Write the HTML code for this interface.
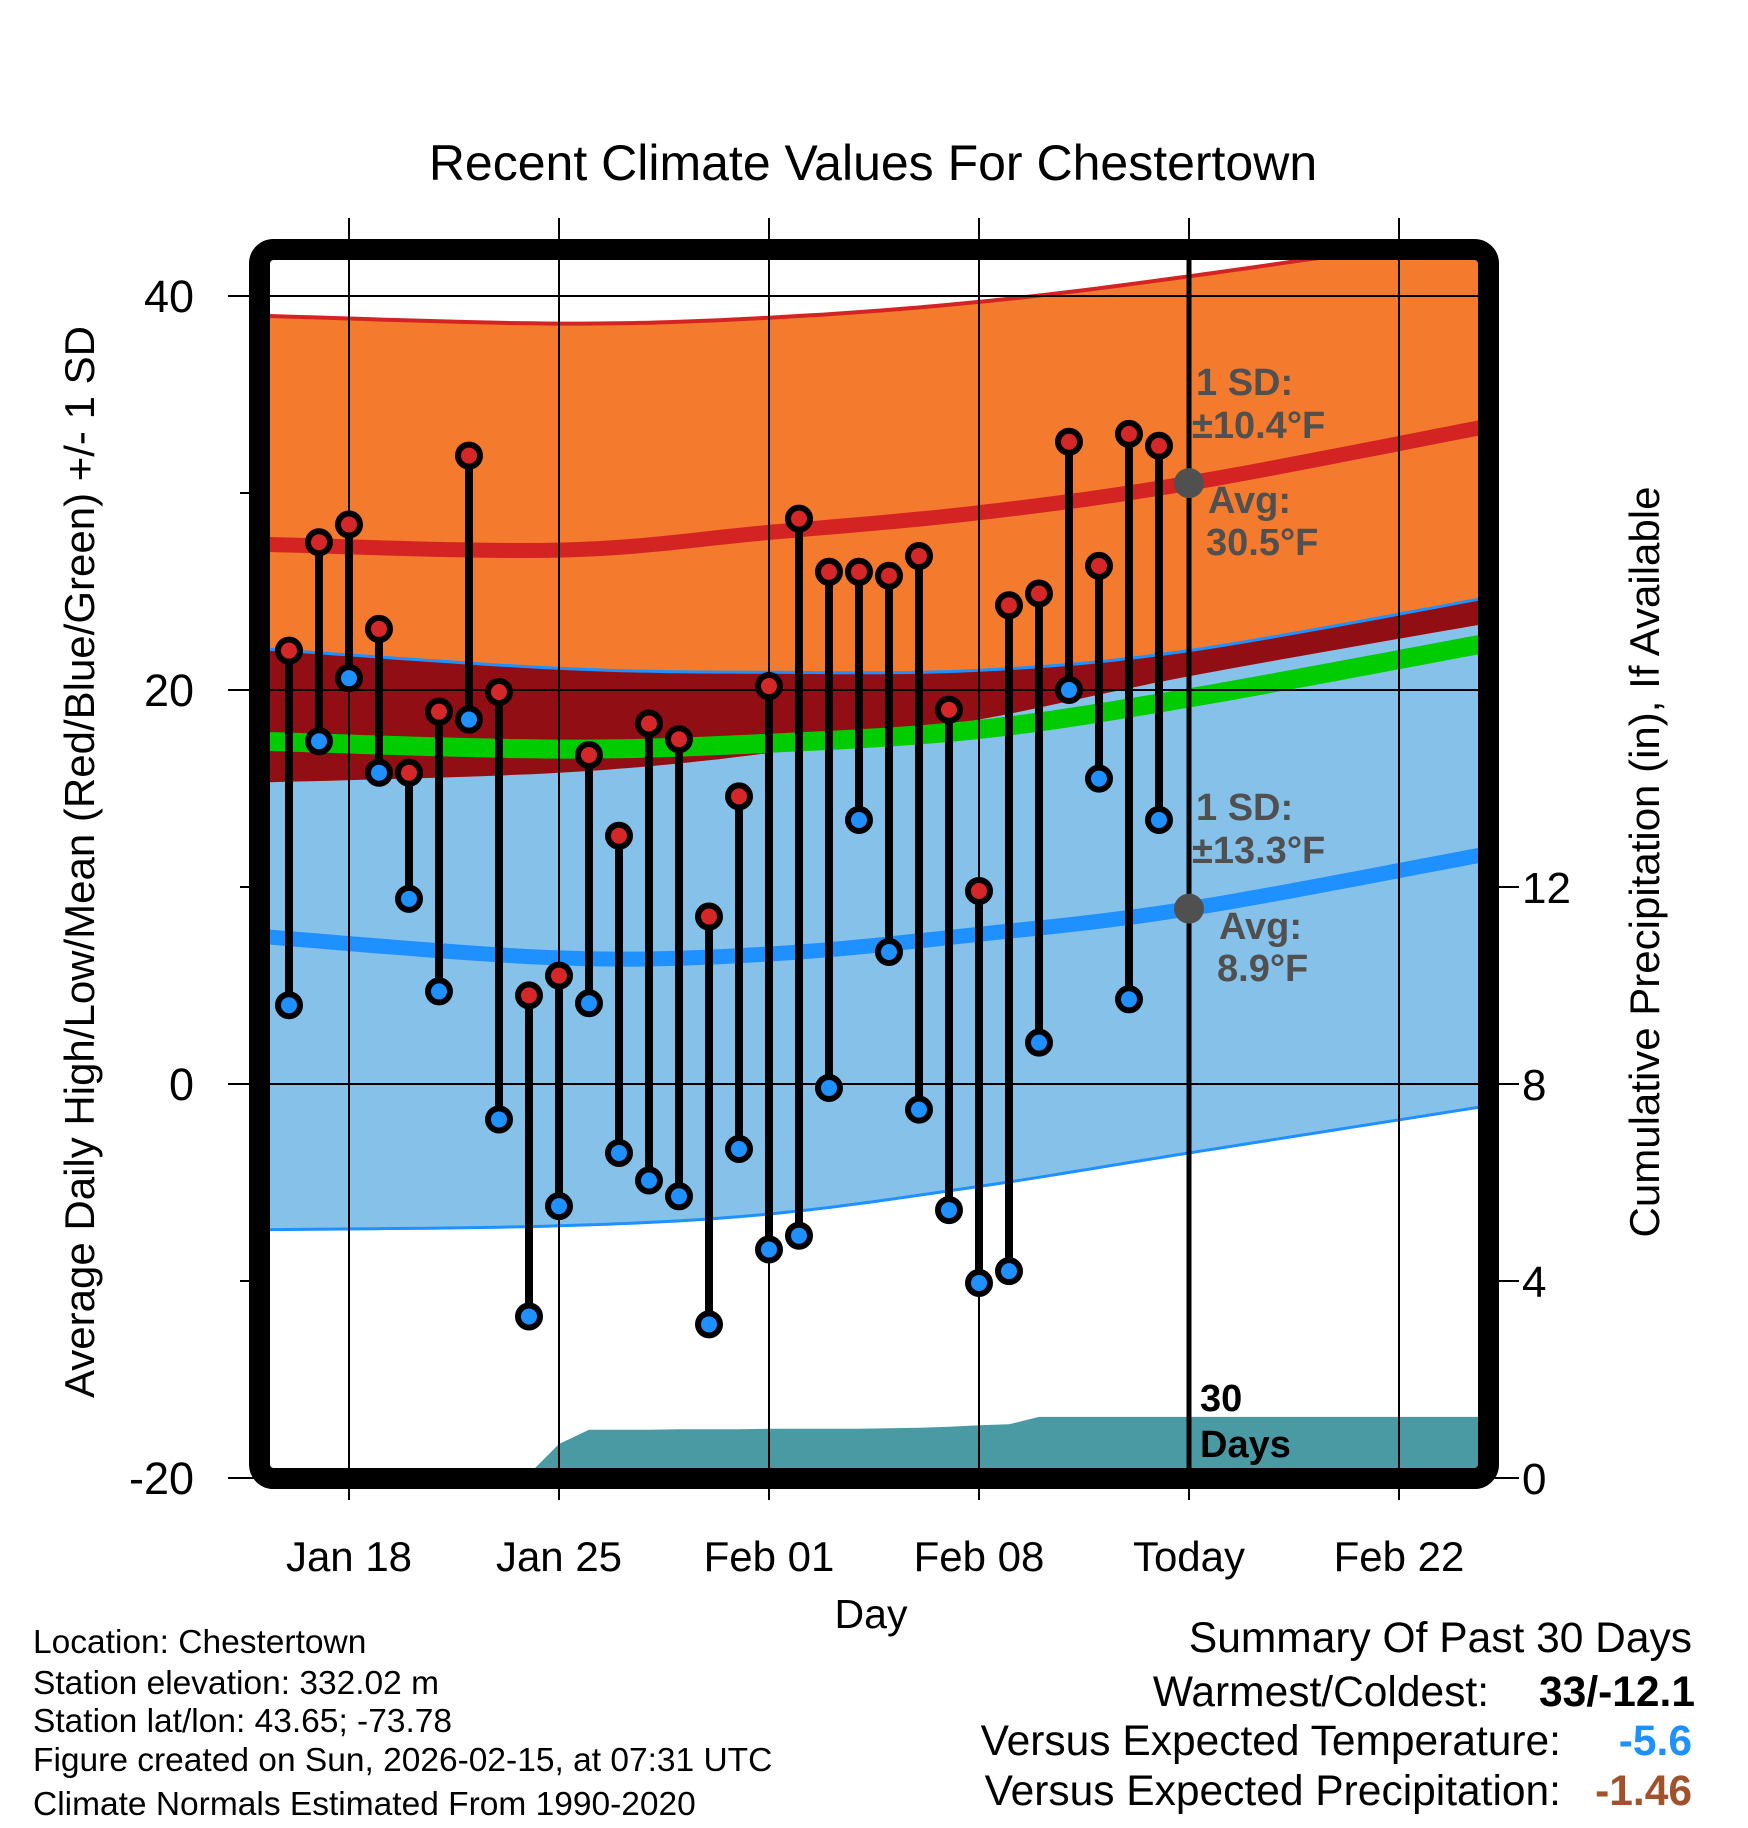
<!DOCTYPE html>
<html><head><meta charset="utf-8">
<style>
html,body{margin:0;padding:0;background:#fff;}
svg{display:block;font-family:"Liberation Sans",sans-serif;}
</style></head>
<body>
<svg id="chart" width="1748" height="1828" viewBox="0 0 1748 1828" xmlns="http://www.w3.org/2000/svg">
<defs><clipPath id="plotclip"><rect x="270" y="260" width="1208" height="1208"/></clipPath></defs>
<g id="bands" clip-path="url(#plotclip)"></g>
<g id="grid"></g>
<g id="marks"></g>
<rect x="259.5" y="249.5" width="1229" height="1229" rx="14" fill="none" stroke="#000" stroke-width="21"/>
<g id="axes"></g>
<text x="873" y="180" font-size="50" text-anchor="middle">Recent Climate Values For Chestertown</text>
<text x="871" y="1628" font-size="41" text-anchor="middle">Day</text>
<text transform="translate(94,862) rotate(-90)" font-size="42" text-anchor="middle">Average Daily High/Low/Mean (Red/Blue/Green) +/- 1 SD</text>
<text transform="translate(1659,862) rotate(-90)" font-size="42" text-anchor="middle">Cumulative Precipitation (in), If Available</text>
<g font-size="38" font-weight="bold" fill="#505050">
<text x="1196" y="395">1 SD:</text>
<text x="1192" y="438">±10.4°F</text>
<text x="1208" y="513">Avg:</text>
<text x="1206" y="555">30.5°F</text>
<text x="1196" y="820">1 SD:</text>
<text x="1192" y="863">±13.3°F</text>
<text x="1219" y="939">Avg:</text>
<text x="1217" y="981">8.9°F</text>
</g>
<g font-size="38" font-weight="bold" fill="#000">
<text x="1200" y="1411">30</text><text x="1200" y="1457">Days</text>
</g>
<g font-size="33.5" fill="#000">
<text x="33" y="1653">Location: Chestertown</text>
<text x="33" y="1694">Station elevation: 332.02 m</text>
<text x="33" y="1732">Station lat/lon: 43.65; -73.78</text>
<text x="33" y="1771">Figure created on Sun, 2026-02-15, at 07:31 UTC</text>
<text x="33" y="1815">Climate Normals Estimated From 1990-2020</text>
</g>
<g font-size="42.5" text-anchor="end">
<text x="1692" y="1652">Summary Of Past 30 Days</text>
<text x="1489" y="1706">Warmest/Coldest:</text>
<text x="1695" y="1706" font-weight="bold">33/-12.1</text>
<text x="1561" y="1755">Versus Expected Temperature:</text>
<text x="1692" y="1755" font-weight="bold" fill="#1e90ff">-5.6</text>
<text x="1561" y="1805">Versus Expected Precipitation:</text>
<text x="1692" y="1805" font-weight="bold" fill="#a0522d">-1.46</text>
</g>
</svg>
<script>
const normDays = [-3, 7, 14, 21, 28, 38];
const highUpper = [39.0, 38.6, 38.9, 39.7, 41.0, 43.2];
const highAvg = [27.4, 27.1, 28.0, 29.0, 30.5, 33.4];
const highLower = [15.3, 15.8, 16.8, 18.5, 20.7, 23.4];
const lowUpper = [22.1, 21.1, 20.9, 21.0, 22.0, 24.7];
const lowAvg = [7.5, 6.4, 6.6, 7.6, 8.9, 11.7];
const lowLower = [-7.4, -7.2, -6.6, -5.2, -3.5, -1.1];
const meanAvg = [17.4, 17.0, 17.3, 18.0, 19.6, 22.4];
const obsDays = [-2,-1,0,1,2,3,4,5,6,7,8,9,10,11,12,13,14,15,16,17,18,19,20,21,22,23,24,25,26,27];
const highs = [22,27.5,28.4,23.1,15.8,18.9,31.9,19.9,4.5,5.5,16.7,12.6,18.3,17.5,8.5,14.6,20.2,28.7,26,26,25.8,26.8,19,9.8,24.3,24.9,32.6,26.3,33,32.4];
const lows = [4,17.4,20.6,15.8,9.4,4.7,18.5,-1.8,-11.8,-6.2,4.1,-3.5,-4.9,-5.7,-12.2,-3.3,-8.4,-7.7,-0.2,13.4,6.7,-1.3,-6.4,-10.1,-9.5,2.1,20,15.5,4.3,13.4];
const precip = [0,0,0,0,0,0,0,0.05,0.08,0.69,0.98,0.98,0.98,0.99,0.99,0.99,1.0,1.0,1.0,1.0,1.01,1.02,1.04,1.07,1.09,1.24,1.24,1.24,1.24,1.24];
const xTickLabels = ["Jan 18","Jan 25","Feb 01","Feb 08","Today","Feb 22"];
const xTickDays = [0,7,14,21,28,35];
const yTicks = [-20,0,20,40];
const y2Ticks = [0,4,8,12];
const todayDay = 28, todayHigh = 30.5, todayLow = 8.9;

const NS="http://www.w3.org/2000/svg";
const X = d => 349 + 30*d;
const Y = t => 1084 - (t)*19.7;
const YP = p => 1478 - p*49.25;
function mk(tag, attrs, parent){const e=document.createElementNS(NS,tag);for(const k in attrs)e.setAttribute(k,attrs[k]);parent.appendChild(e);return e;}
function curvePts(vals){
  const pts=normDays.map((d,i)=>[X(d),Y(vals[i])]);
  const out=[];
  for(let i=0;i<pts.length-1;i++){
    const p0=pts[Math.max(0,i-1)],p1=pts[i],p2=pts[i+1],p3=pts[Math.min(pts.length-1,i+2)];
    for(let s=0;s<20;s++){const t=s/20,t2=t*t,t3=t2*t;
      const f=(a,b,c,d)=>0.5*((2*b)+(-a+c)*t+(2*a-5*b+4*c-d)*t2+(-a+3*b-3*c+d)*t3);
      out.push([f(p0[0],p1[0],p2[0],p3[0]),f(p0[1],p1[1],p2[1],p3[1])]);}
  }
  out.push(pts[pts.length-1]);return out;
}
const ps = a => a.map(p=>p[0].toFixed(1)+","+p[1].toFixed(1)).join(" ");
function band(up,lo,fill,name){
  const a=curvePts(up),b=curvePts(lo).reverse();
  const e=mk('polygon',{points:ps(a.concat(b)),fill:fill},bands);
  
  
}
function line(vals,col,w,name){
  const e=mk('polyline',{points:ps(curvePts(vals)),fill:'none',stroke:col,'stroke-width':w},bands);
  
  
}
const bands=document.getElementById('bands');
band(lowUpper,lowLower,'#85c1e9','low-sd-band');
band(highUpper,highLower,'#f47a2e','high-sd-band');
band(lowUpper,highLower,'#920e15','overlap-band');
line(lowUpper,'#1e90ff',3,'low-upper-line');
line(lowLower,'#1e90ff',3,'low-lower-line');
line(highUpper,'#d42323',4,'high-upper-line');
line(meanAvg,'#00cc00',19,'mean-normal-line');
line(lowAvg,'#1e90ff',15,'low-normal-line');
line(highAvg,'#d42323',15,'high-normal-line');
{
  const pts=[[270,YP(precip[0])]];
  obsDays.forEach((d,i)=>pts.push([X(d),YP(precip[i])]));
  pts.push([1478,YP(precip[precip.length-1])]);
  pts.push([1478,1478]);pts.push([270,1478]);
  const e=mk('polygon',{points:ps(pts),fill:'#4a9aa3'},bands);
  
  
}
const grid=document.getElementById('grid');
xTickDays.forEach((d,i)=>{
  const e=mk('line',{x1:X(d),x2:X(d),y1:218,y2:1500,stroke:'#000','stroke-width':2},grid);
  
  
  const t=mk('text',{x:X(d),y:1571,'font-size':42,'text-anchor':'middle'},grid);t.textContent=xTickLabels[i];
  
  
});
yTicks.forEach(v=>{
  const e=mk('line',{x1:228,x2:1478,y1:Y(v),y2:Y(v),stroke:'#000','stroke-width':2},grid);
  
  
  const t=mk('text',{x:194,y:Y(v)+16,'font-size':45,'text-anchor':'end'},grid);t.textContent=v;
  
  
});
[-10,10,30].forEach(v=>{mk('line',{x1:240,x2:250,y1:Y(v),y2:Y(v),stroke:'#000','stroke-width':2},grid);});
y2Ticks.forEach(v=>{
  const e=mk('line',{x1:1490,x2:1519,y1:YP(v),y2:YP(v),stroke:'#000','stroke-width':2},grid);
  
  
  const t=mk('text',{x:1522,y:YP(v)+16,'font-size':44},grid);t.textContent=v;
  
  
});
{const e=mk('line',{x1:X(todayDay),x2:X(todayDay),y1:258,y2:1470,stroke:'#000','stroke-width':5},grid);

}
const marks=document.getElementById('marks');
obsDays.forEach((d,i)=>{
  const s=mk('line',{x1:X(d),x2:X(d),y1:Y(highs[i]),y2:Y(lows[i]),stroke:'#000','stroke-width':8},marks);
  
  
});
obsDays.forEach((d,i)=>{
  const h=mk('circle',{cx:X(d),cy:Y(highs[i]),r:11,fill:'#d62728',stroke:'#000','stroke-width':6},marks);
  
  
  const l=mk('circle',{cx:X(d),cy:Y(lows[i]),r:11,fill:'#1e90ff',stroke:'#000','stroke-width':6},marks);
  
  
});
{const a=mk('circle',{cx:X(todayDay),cy:Y(todayHigh),r:15,fill:'#505050'},marks);


const b=mk('circle',{cx:X(todayDay),cy:Y(todayLow),r:15,fill:'#505050'},marks);

}
</script>
</body></html>
